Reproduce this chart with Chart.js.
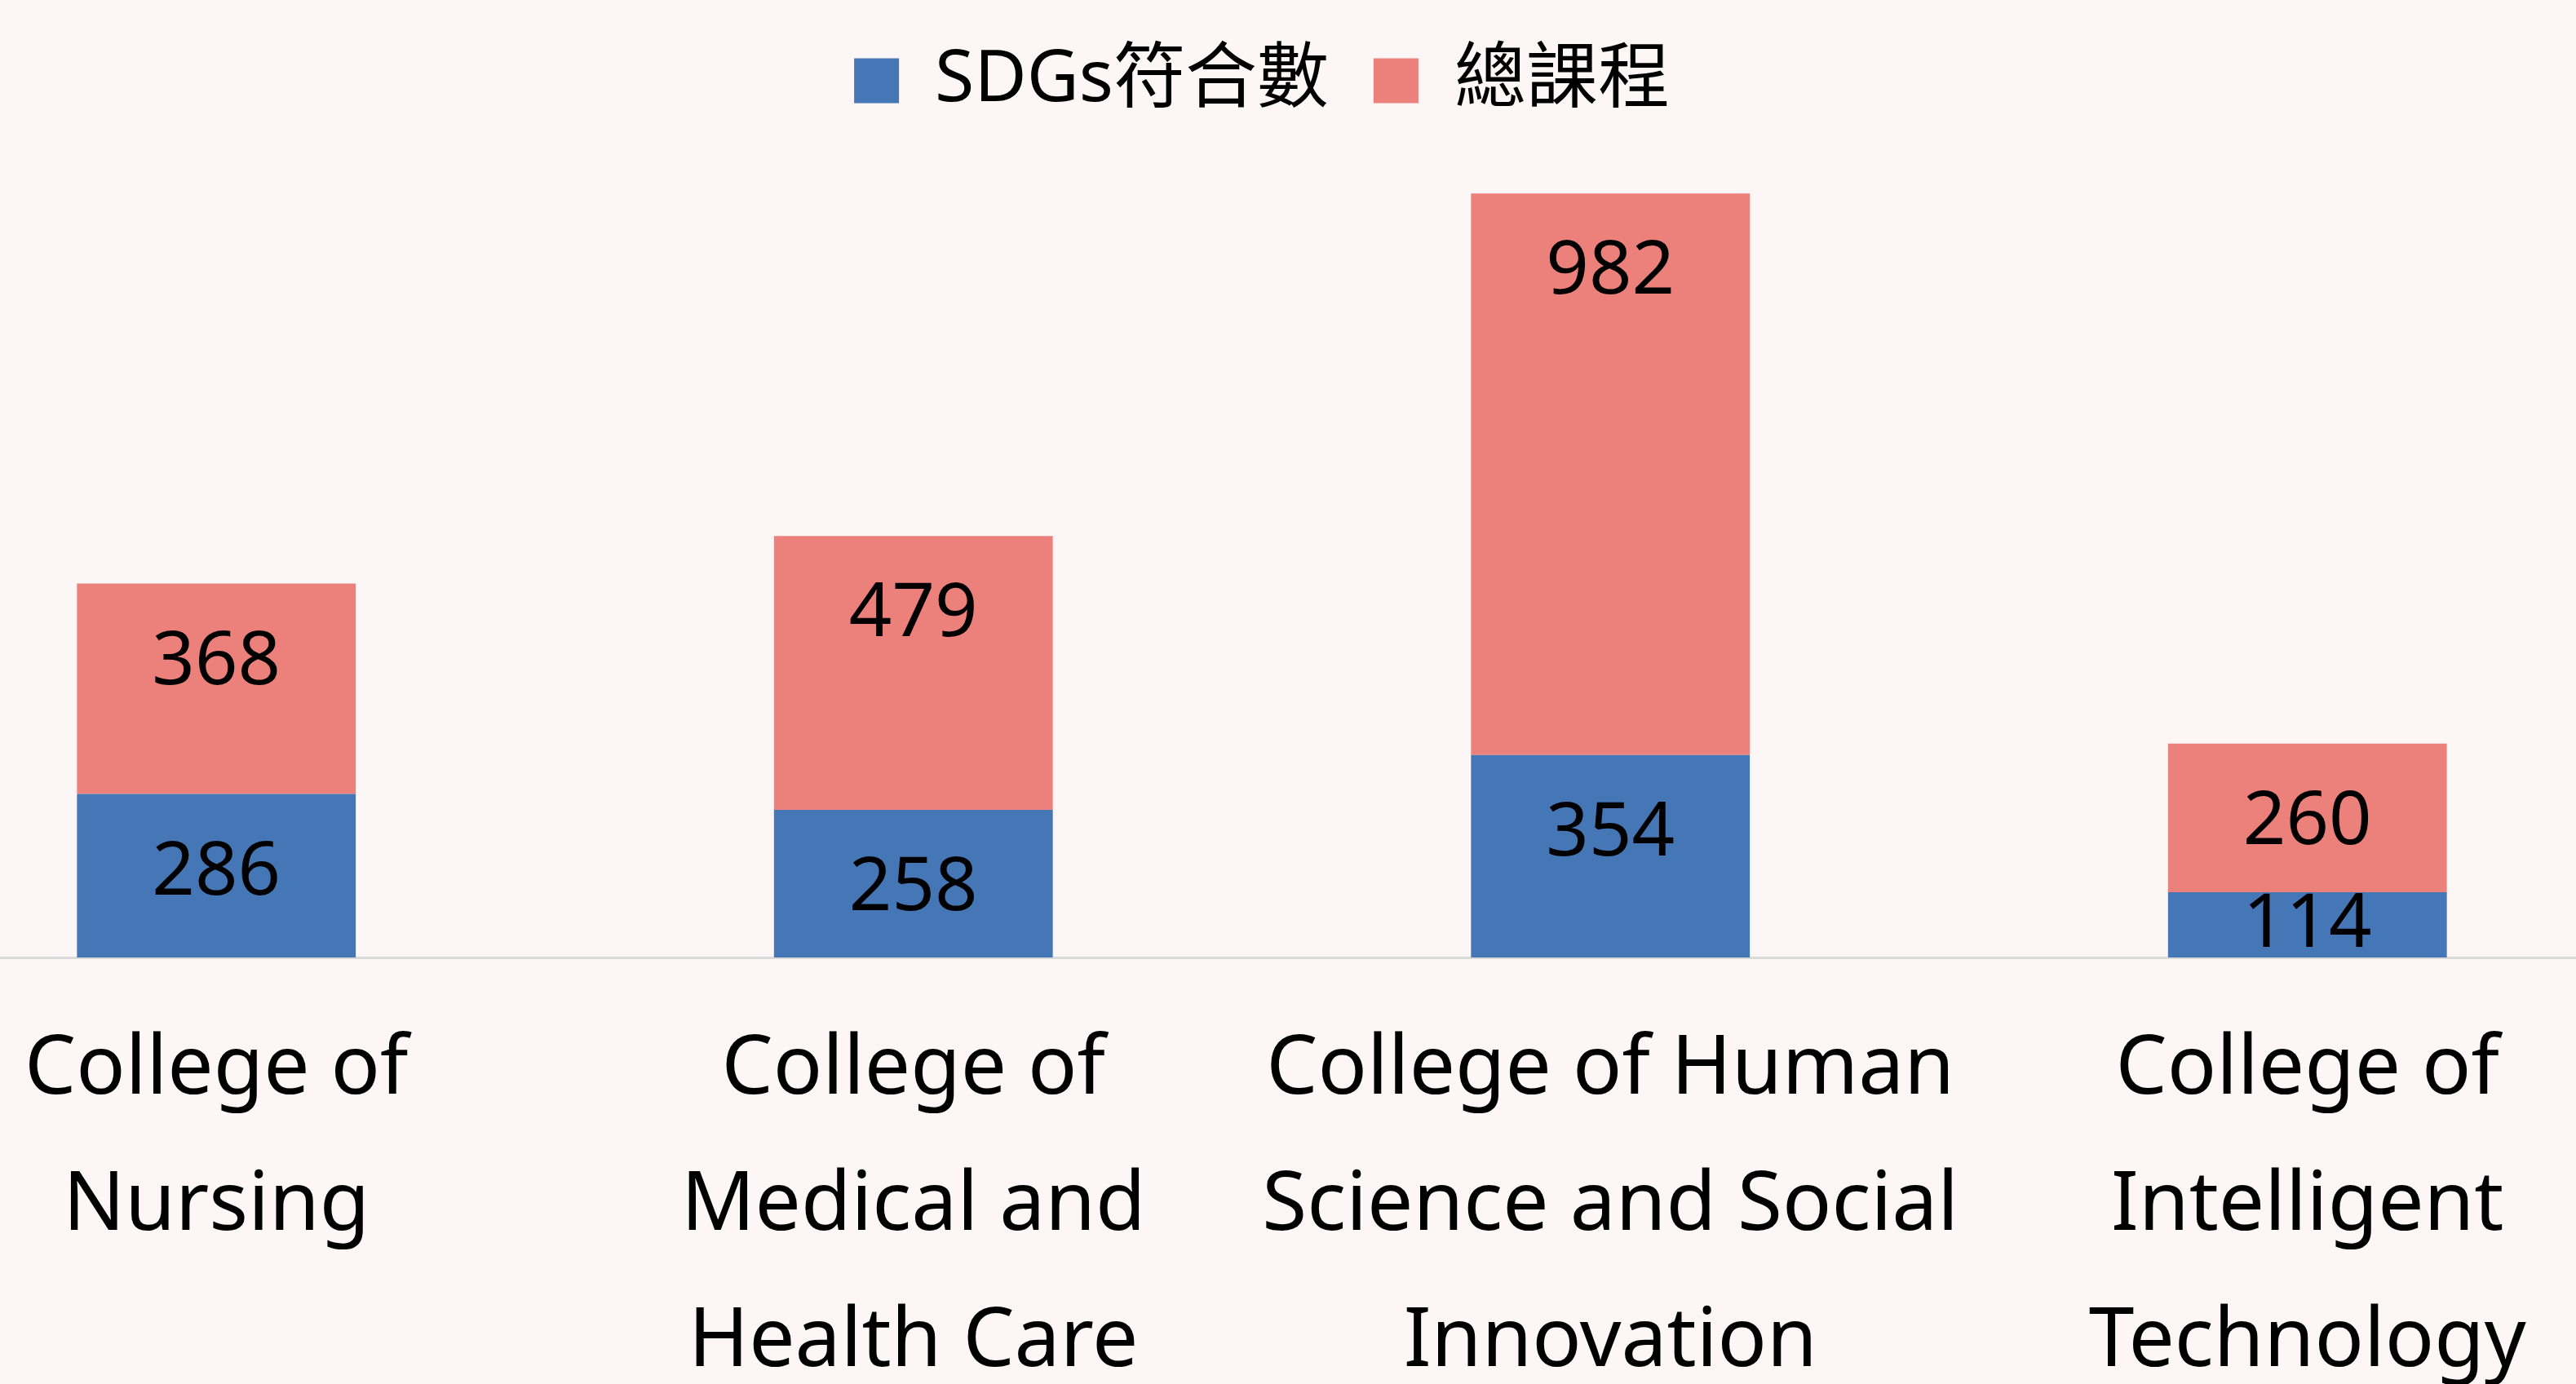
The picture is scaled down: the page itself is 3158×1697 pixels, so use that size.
<!DOCTYPE html>
<html>
<head>
<meta charset="utf-8">
<script src="https://cdn.jsdelivr.net/npm/chart.js@4"></script>
<style>
  html, body { margin: 0; padding: 0; background: #fdf6f6; overflow: hidden; }
  body { width: 3158px; height: 1697px; position: relative; }
  #wrap { position: absolute; left: -162px; top: 0; width: 3418px; height: 1760px; }
</style>
</head>
<body>
<div id="wrap"><canvas id="bar-chart"></canvas></div>
<script>
const colleges = [
    ["College of", "Nursing"],
    ["College of", "Medical and", "Health Care"],
    ["College of Human", "Science and Social", "Innovation"],
    ["College of", "Intelligent", "Technology"]
];
const sdgCourses = [286, 258, 354, 114];
const totalCourses = [368, 479, 982, 260];
const seriesNames = ["SDGs符合數", "總課程"];

const fontFamily = '"Noto Sans", "Noto Sans CJK TC", sans-serif';

// value labels, placed near the top of each segment like the original
const valueLabels = {
    id: 'valueLabels',
    afterDatasetsDraw(chart) {
        const ctx = chart.ctx;
        ctx.save();
        ctx.font = '92px ' + fontFamily;
        ctx.fillStyle = '#000';
        ctx.textAlign = 'center';
        ctx.textBaseline = 'middle';
        chart.data.datasets.forEach((ds, i) => {
            chart.getDatasetMeta(i).data.forEach((bar, j) => {
                const p = bar.getProps(['x', 'y', 'base'], true);
                const y = Math.min(p.y + 97, p.base - 39);
                ctx.fillText(ds.data[j], p.x, y);
            });
        });
        ctx.restore();
    }
};

const ctx = document.getElementById('bar-chart');

new Chart(ctx, {
    type: 'bar',
    data: {
        labels: colleges,
        datasets: [{
            label: seriesNames[0],
            data: sdgCourses,
            backgroundColor: '#4577b6',
            borderWidth: 0,
            barPercentage: 0.4,
            categoryPercentage: 1
        }, {
            label: seriesNames[1],
            data: totalCourses,
            backgroundColor: '#ec807a',
            borderWidth: 0,
            barPercentage: 0.4,
            categoryPercentage: 1
        }]
    },
    options: {
        responsive: true,
        maintainAspectRatio: false,
        animation: false,
        layout: { padding: 0 },
        plugins: {
            legend: {
                position: 'top',
                labels: {
                    color: '#000',
                    boxWidth: 55,
                    boxHeight: 55,
                    padding: 55,
                    font: { family: fontFamily, size: 88 }
                }
            },
            tooltip: { enabled: false }
        },
        scales: {
            x: {
                stacked: true,
                grid: { display: false, drawTicks: false },
                border: { display: true, color: '#d9d9d9', width: 3 },
                ticks: {
                    color: '#000',
                    padding: 55,
                    maxRotation: 0,
                    autoSkip: false,
                    font: { family: fontFamily, size: 100, lineHeight: 1.67 }
                },
                afterFit(axis) { axis.height = 586; }
            },
            y: {
                stacked: true,
                display: false,
                min: 0,
                max: 1456
            }
        }
    },
    plugins: [valueLabels]
});
</script>
</body>
</html>
